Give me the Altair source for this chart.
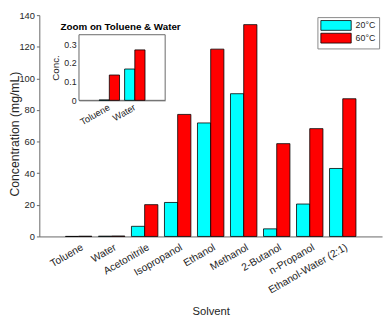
import altair as alt
import pandas as pd

solvents = ["Toluene", "Water", "Acetonitrile", "Isopropanol", "Ethanol",
            "Methanol", "2-Butanol", "n-Propanol", "Ethanol-Water (2:1)"]
conc_20 = [0.002, 0.167, 6.4, 21.5, 71.8, 90.3, 4.8, 20.5, 43.0]
conc_60 = [0.135, 0.269, 20.1, 77.2, 118.5, 134.0, 58.7, 68.2, 87.1]
temps = ["20°C", "60°C"]
temp_colors = ["#00FFFF", "#FF0000"]
inset_solvents = ["Toluene", "Water"]
main_y_ticks = [0, 20, 40, 60, 80, 100, 120, 140]
inset_y_ticks = [0, 0.1, 0.2, 0.3]

rows = []
for s, a, b in zip(solvents, conc_20, conc_60):
    rows.append({"solvent": s, "temp": temps[0], "value": a})
    rows.append({"solvent": s, "temp": temps[1], "value": b})
df = pd.DataFrame(rows)
inset_df = df[df["solvent"].isin(inset_solvents)]

FONT = "Liberation Sans"
AX = "#666666"
TXT = "#262626"

color = alt.Color(
    "temp:N",
    scale=alt.Scale(domain=temps, range=temp_colors),
    legend=alt.Legend(
        title=None, orient="none", legendX=284, legendY=2, direction="vertical",
        symbolType="M-1,-1H5.2V1H-1Z", symbolSize=100,
        symbolStrokeColor="#000000", symbolStrokeWidth=0.8, symbolOpacity=1,
        labelOffset=25, labelFontSize=9, labelFont=FONT, labelColor=TXT,
        strokeColor="#888888", fillColor="white", padding=3, rowPadding=-4,
    ),
)

main = alt.Chart(df).mark_bar(stroke="#000000", strokeWidth=0.8).encode(
    x=alt.X("solvent:N", sort=solvents,
            scale=alt.Scale(paddingInner=0.2, paddingOuter=0.79),
            axis=alt.Axis(title="Solvent", labelAngle=-30, labelAlign="right",
                          labelBaseline="middle", labelPadding=10, labelOffset=4,
                          ticks=False, labelOverlap=False, domainColor=AX,
                          labelFontSize=10.5, titleFontSize=11.5, titleFontWeight="normal",
                          titleY=77, titleBaseline="middle",
                          labelFont=FONT, titleFont=FONT, labelColor=TXT, titleColor=TXT)),
    xOffset=alt.XOffset("temp:N", sort=temps),
    y=alt.Y("value:Q", scale=alt.Scale(domain=[0, 140], nice=False),
            axis=alt.Axis(values=main_y_ticks, format="d", title="Concentration (mg/mL)",
                          tickSize=3, tickColor=AX, domainColor=AX, labelPadding=2,
                          labelFontSize=9.5, titleFontSize=12.5, titleFontWeight="normal",
                          titleX=-25.5, titleY=121, titleAngle=-90, titleBaseline="middle",
                          titleAlign="center",
                          labelFont=FONT, titleFont=FONT,
                          labelColor=TXT, titleColor=TXT, grid=False)),
    color=color,
)

frame = alt.Chart(alt.Data(values=[{}])).mark_rect(
    fill="white", stroke=AX, strokeWidth=1
).encode(x=alt.value(40.5), x2=alt.value(128.5), y=alt.value(20), y2=alt.value(87))

inset = alt.Chart(inset_df).mark_bar(stroke="#000000", strokeWidth=0.8).encode(
    x=alt.X("solvent:N", sort=inset_solvents,
            scale=alt.Scale(range=[40.5, 128.5], paddingInner=0.2, paddingOuter=0.79),
            axis=alt.Axis(title=None, orient="bottom", offset=-139, labelAngle=-30,
                          labelAlign="right", labelBaseline="middle", labelPadding=6,
                          ticks=False, domainColor=AX, labelFontSize=9.5,
                          labelFont=FONT, labelColor=TXT, labelOverlap=False)),
    xOffset=alt.XOffset("temp:N", sort=temps),
    y=alt.Y("value:Q", scale=alt.Scale(domain=[0, 0.35], range=[87, 20], nice=False),
            axis=alt.Axis(orient="left", offset=-40.5, values=inset_y_ticks, format=".1~f",
                          title="Conc.", ticks=False, domainColor=AX, labelPadding=3,
                          labelFontSize=9, titleFontSize=10, titleFontWeight="normal",
                          titlePadding=3, labelFont=FONT, titleFont=FONT,
                          labelColor=TXT, titleColor=TXT, grid=False)),
    color=alt.Color("temp:N", legend=None),
)

ititle = alt.Chart(alt.Data(values=[{}])).mark_text(
    text="Zoom on Toluene & Water", fontWeight="bold", fontSize=10, font=FONT,
    color="#000000", align="center", baseline="alphabetic"
).encode(x=alt.value(83), y=alt.value(15))

chart = alt.layer(main, frame, inset, ititle).resolve_scale(
    x="independent", y="independent", xOffset="independent"
).resolve_axis(x="independent", y="independent").properties(
    width=350, height=226,
    autosize=alt.AutoSizeParams(type="none"),
    padding={"left": 32, "top": 4, "right": 2, "bottom": 80},
).configure_view(strokeWidth=0)

chart.save("out.html", embed_options={"renderer": "svg", "actions": False})
